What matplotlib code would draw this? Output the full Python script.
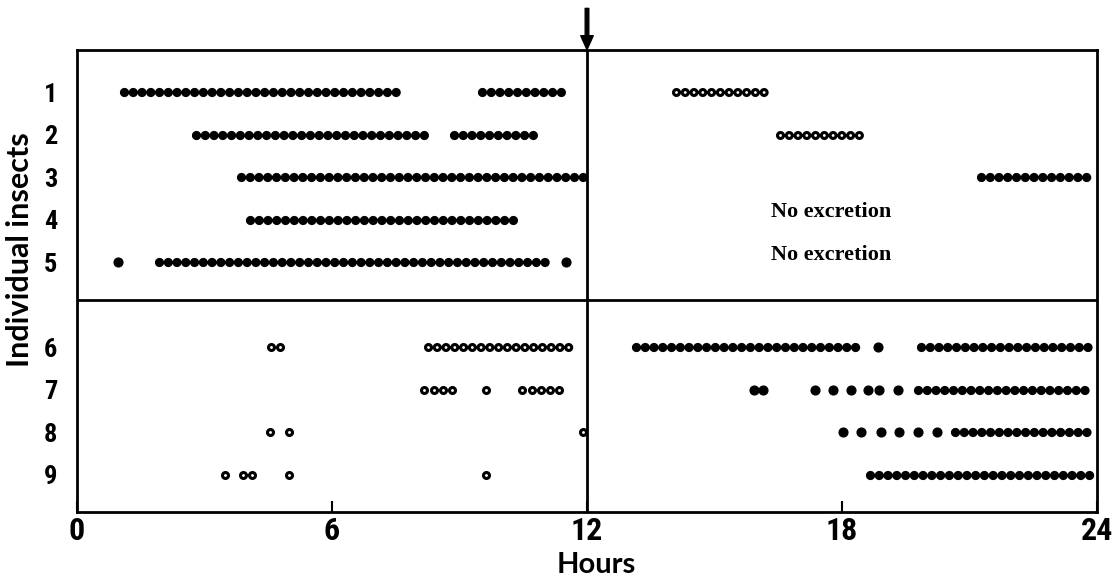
import matplotlib
matplotlib.use('Agg')
import matplotlib.pyplot as plt

## excretion record, hours
## filled dots = excretion runs, open dots = second kind of excretion
fill_run_insect = [1, 1, 2, 2, 3, 4, 5, 3, 6, 6, 7, 8, 9]
fill_run_start = [1.11, 9.52, 2.79, 8.87, 3.85, 4.06, 1.94, 21.28, 13.16, 19.86, 19.79, 20.65, 18.65]
fill_run_end = [7.56, 11.57, 8.20, 10.74, 12.0, 10.32, 11.18, 23.83, 18.45, 23.88, 23.88, 23.95, 23.95]

fill_dot_insect = [5, 5, 6, 7, 7, 7, 7, 7, 7, 7, 7, 8, 8, 8, 8, 8, 8]
fill_dot_hour = [0.97, 11.50, 18.84, 15.93, 16.14, 17.37, 17.79, 18.22, 18.62, 18.87, 19.32,
                 18.02, 18.45, 18.92, 19.34, 19.79, 20.23]

open_run_insect = [1, 2, 6]
open_run_start = [14.09, 16.53, 8.27]
open_run_end = [16.30, 18.57, 11.61]

open_dot_insect = [6, 6, 7, 7, 7, 7, 7, 7, 7, 7, 7, 7, 8, 8, 8, 9, 9, 9, 9, 9]
open_dot_hour = [4.57, 4.77, 8.16, 8.39, 8.62, 8.83, 9.63, 10.48, 10.71, 10.92, 11.13, 11.34,
                 4.55, 4.98, 11.91, 3.49, 3.91, 4.12, 4.98, 9.63]

no_excretion_insect = [4, 5]

insects = [1, 2, 3, 4, 5, 6, 7, 8, 9]
hour_ticks = [0, 6, 12, 18, 24]

##Functions
def slot(insect):
    # insects 6-9 sit one row lower, below the divider
    return insect if insect <= 5 else insect + 1

plt.rcParams['lines.scale_dashes'] = False
narrow = ['Roboto Condensed', 'Liberation Sans Narrow', 'DejaVu Sans']
dots = (0, (0.01, 6.3))

fig = plt.figure(figsize=(11.2, 5.79), dpi=100)
ax = fig.add_axes([0.06875, 0.1157, 0.9107, 0.7979])
ax.set_xlim(0, 24)
ax.set_ylim(10.88, 0.01)

for s in ax.spines.values():
    s.set_linewidth(2.0)

ax.axvline(12, color='black', lw=2)
ax.axhline(5.9, color='black', lw=2)

for i, a, b in zip(fill_run_insect, fill_run_start, fill_run_end):
    ax.plot([a, b], [slot(i), slot(i)], color='black', lw=6.7, ls=dots,
            dash_capstyle='round')

for i, a, b in zip(open_run_insect, open_run_start, open_run_end):
    ax.plot([a, b], [slot(i), slot(i)], color='black', lw=6.6, ls=dots,
            dash_capstyle='round')
    ax.plot([a, b], [slot(i), slot(i)], color='white', lw=2.1, ls=dots,
            dash_capstyle='round')

ax.plot(fill_dot_hour, [slot(i) for i in fill_dot_insect], 'o', color='black', ms=6.3)
ax.plot(open_dot_hour, [slot(i) for i in open_dot_insect], 'o', mfc='white', mec='black',
        ms=4.3, mew=2.2)

for i in no_excretion_insect:
    ax.text(17.74, slot(i) - 0.17, 'No excretion', ha='center', va='center',
            fontsize=16, fontweight='bold', family=['Liberation Serif', 'DejaVu Serif'])

ax.annotate('', xy=(12, 0.0), xytext=(12, -0.97), annotation_clip=False,
            arrowprops=dict(facecolor='black', edgecolor='black', width=2.6,
                            headwidth=9, headlength=10, shrink=0))

ax.set_xticks(hour_ticks)
ax.set_xticklabels([str(h) for h in hour_ticks], fontsize=23, fontweight='bold',
                   family=narrow, fontstretch='condensed')
ax.tick_params(axis='x', direction='in', length=8, width=1.5, pad=3)
ax.set_yticks([slot(i) for i in insects])
ax.set_yticklabels([str(i) for i in insects], fontsize=19, fontweight='bold',
                   family=narrow, fontstretch='condensed')
ax.tick_params(axis='y', length=0, pad=14)

fig.text(20 / 1120, 1 - 250 / 579, 'Individual insects', rotation=90, ha='center',
         va='center', fontsize=22, fontweight='bold', family=['Lato', 'DejaVu Sans'])
fig.text(596 / 1120, 1 - 565 / 579, 'Hours', ha='center', va='center',
         fontsize=21, fontweight='bold', family=['Lato', 'DejaVu Sans'])

fig.savefig('out.png', dpi=100)
